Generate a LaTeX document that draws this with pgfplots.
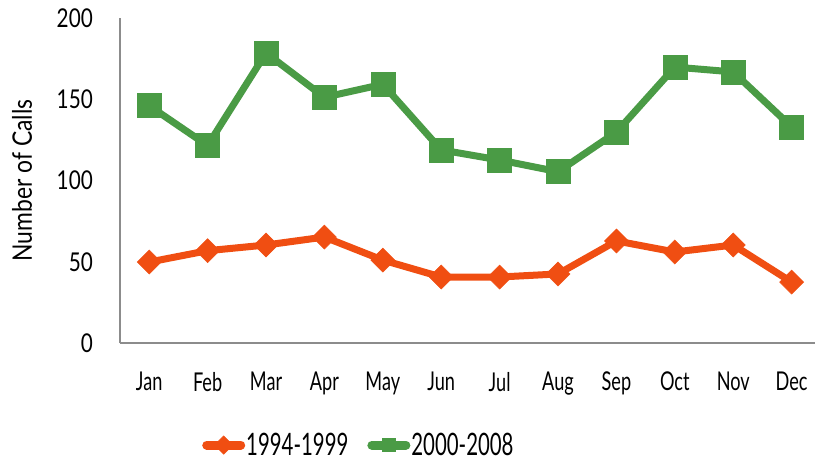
\documentclass[border=0pt]{standalone}
\usepackage{pgfplots}
\pgfplotsset{compat=1.18}
\usepackage{fontspec}
\setmainfont{Lato}[FakeStretch=0.7]
\newfontfamily\ytfont{Lato}[FakeStretch=0.8]
\newfontfamily\ylfont{Lato}[FakeStretch=0.85]
\newfontfamily\legfont{Lato}[FakeStretch=0.66]
\definecolor{corange}{HTML}{F04E12}
\definecolor{cgreen}{HTML}{4A9B45}
\definecolor{caxis}{HTML}{8C8C8C}
\begin{document}
\begin{tikzpicture}
\useasboundingbox (0,0) rectangle (816bp,462bp);
\begin{axis}[
  at={(120bp,119bp)}, anchor=south west,
  scale only axis, width=695bp, height=325bp,
  xmin=-0.5, xmax=11.4, ymin=0, ymax=200,
  axis x line=bottom, axis y line=left,
  axis line style={-, draw=caxis, line width=1.3bp},
  xtick={0,...,11},
  xticklabels={Jan,Feb,Mar,Apr,May,Jun,Jul,Aug,Sep,Oct,Nov,Dec},
  ytick={0,50,100,150,200},
  major tick length=0pt,
  /pgf/number format/assume math mode=true,
  xticklabel style={font=\fontsize{26}{30}\selectfont, text=black, inner sep=0pt, anchor=north, yshift=-29bp},
  yticklabel style={font=\ytfont\fontsize{26}{30}\selectfont, text=black, inner sep=0pt, anchor=east, xshift=-27bp},
  ylabel={Number of Calls},
  ylabel style={at={(axis description cs:-0.141,0.5)}, anchor=center, font=\ylfont\fontsize{27}{32}\selectfont},
  clip=false,
  legend columns=2,
  legend style={at={(axis description cs:0.343,-0.314)}, anchor=center, draw=none, fill=none,
    font=\legfont\fontsize{31}{35}\selectfont, inner sep=0pt, column sep=0bp,
    nodes={inner xsep=1bp},
    /tikz/every even column/.append style={column sep=18bp}},
  legend image code/.code={
    \draw[#1, line width=9bp, line cap=round, mark repeat=2, mark phase=2, mark size=6.5bp]
      plot coordinates {(4bp,0bp) (21bp,0bp) (38bp,0bp)};
  },
]
\addplot[color=corange, line width=7bp, mark=square*, mark size=8.5bp,
  mark options={rotate=45, solid, line width=0.5bp, fill=corange}]
  coordinates {(0,49.8) (1,56.8) (2,60.3) (3,65.2) (4,51) (5,40.6) (6,40.6) (7,42.5) (8,62.8) (9,56) (10,60.3) (11,37.5)};
\addlegendentry{1994-1999}
\addplot[color=cgreen, line width=7bp, mark=square*, mark size=12bp,
  mark options={solid, line width=0.5bp, fill=cgreen}]
  coordinates {(0,146) (1,121.5) (2,178.5) (3,151.2) (4,159.2) (5,118.8) (6,112.6) (7,105.4) (8,129.8) (9,169.8) (10,166.8) (11,133)};
\addlegendentry{2000-2008}
\end{axis}
\end{tikzpicture}
\end{document}
